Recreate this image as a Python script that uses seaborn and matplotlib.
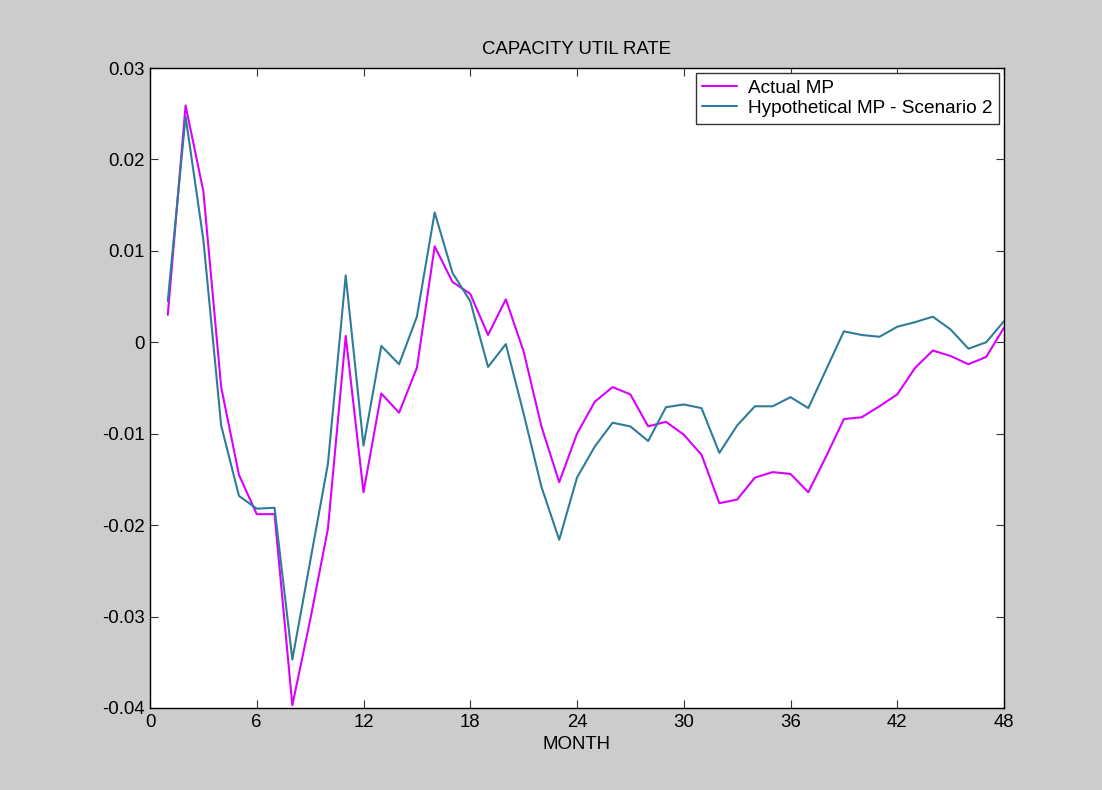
import numpy as np
import pandas as pd
import matplotlib
matplotlib.use("Agg")
import matplotlib.pyplot as plt
import seaborn as sns

months = list(range(1, 49))

actual_mp = [
    0.0030, 0.0259, 0.0165, -0.0049, -0.0145, -0.0188, -0.0188, -0.0397,
    -0.0304, -0.0204, 0.0007, -0.0164, -0.0056, -0.0077, -0.0028, 0.0105,
    0.0066, 0.0053, 0.0008, 0.0047, -0.0010, -0.0092, -0.0153, -0.0100,
    -0.0065, -0.0049, -0.0057, -0.0092, -0.0087, -0.0101, -0.0123, -0.0176,
    -0.0172, -0.0148, -0.0142, -0.0144, -0.0164, -0.0125, -0.0084, -0.0082,
    -0.0070, -0.0057, -0.0028, -0.0009, -0.0015, -0.0024, -0.0016, 0.0016,
]

hypothetical_mp = [
    0.0045, 0.0247, 0.0112, -0.0091, -0.0168, -0.0182, -0.0181, -0.0347,
    -0.0240, -0.0133, 0.0073, -0.0113, -0.0004, -0.0024, 0.0028, 0.0142,
    0.0076, 0.0045, -0.0027, -0.0002, -0.0078, -0.0158, -0.0216, -0.0148,
    -0.0114, -0.0088, -0.0092, -0.0108, -0.0071, -0.0068, -0.0072, -0.0121,
    -0.0091, -0.0070, -0.0070, -0.0060, -0.0072, -0.0030, 0.0012, 0.0008,
    0.0006, 0.0017, 0.0022, 0.0028, 0.0014, -0.0007, 0.0000, 0.0023,
]

series_names = ["Actual MP", "Hypothetical MP - Scenario 2"]
series_colors = ["#d800ff", "#2f7c98"]

x_ticks = [0, 6, 12, 18, 24, 30, 36, 42, 48]
y_ticks = [-0.04, -0.03, -0.02, -0.01, 0, 0.01, 0.02, 0.03]
y_tick_labels = ["-0.04", "-0.03", "-0.02", "-0.01", "0", "0.01", "0.02", "0.03"]

df = pd.DataFrame({
    "MONTH": months * 2,
    "value": actual_mp + hypothetical_mp,
    "series": [series_names[0]] * len(months) + [series_names[1]] * len(months),
})

sns.set_style("white")
plt.rcParams["font.family"] = ["Liberation Sans", "DejaVu Sans"]
plt.rcParams["text.color"] = "black"
plt.rcParams["axes.labelcolor"] = "black"
fs = 13.4

fig = plt.figure(figsize=(11.02, 7.90), dpi=100, facecolor="#cccccc")
ax = fig.add_axes([150 / 1102, 1 - 708 / 790, 854 / 1102, 640 / 790])
ax.set_facecolor("white")

sns.lineplot(
    data=df, x="MONTH", y="value", hue="series",
    palette=dict(zip(series_names, series_colors)),
    linewidth=1.5, ax=ax, legend=True,
)

ax.set_xlim(0, 48)
ax.set_ylim(-0.04, 0.03)
ax.set_xticks(x_ticks)
ax.set_xticklabels([str(t) for t in x_ticks], fontsize=fs)
ax.set_yticks(y_ticks)
ax.set_yticklabels(y_tick_labels, fontsize=fs)
ax.tick_params(direction="in", length=6, width=0.8, color="#333333",
               bottom=True, left=True, top=True, right=True,
               pad=4, labelcolor="black")

for s in ax.spines.values():
    s.set_color("black")
    s.set_linewidth(1.0)

ax.set_title("CAPACITY UTIL RATE", fontsize=fs, pad=10, color="black")
ax.set_xlabel("MONTH", fontsize=fs, labelpad=4, color="black")
ax.set_ylabel("")

handles, labels = ax.get_legend_handles_labels()
leg = ax.legend(
    handles, labels, loc="upper right", fontsize=13.7, frameon=True,
    fancybox=False, edgecolor="#333333", framealpha=1,
    handlelength=1.8, handletextpad=0.6, labelspacing=0.15,
    borderpad=0.35, borderaxespad=0.25,
)
leg.get_frame().set_linewidth(1.0)
for t in leg.get_texts():
    t.set_color("black")

fig.savefig("out.png", dpi=100, facecolor=fig.get_facecolor())
